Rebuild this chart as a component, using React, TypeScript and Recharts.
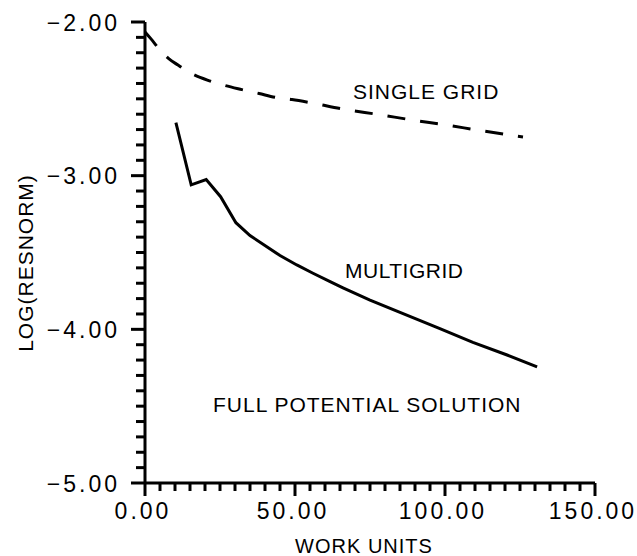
import { Line, LineChart, XAxis, YAxis } from 'recharts'

const singleGridWork = [0, 2, 4.7, 8, 11, 15, 21, 26, 32.3, 38, 43.3, 49, 55, 66.3, 77.8, 89.2, 100.3, 111.7, 126]
const singleGridLog = [-2.065, -2.11, -2.175, -2.24, -2.28, -2.33, -2.38, -2.41, -2.44, -2.465, -2.49, -2.505, -2.525, -2.568, -2.602, -2.638, -2.67, -2.706, -2.748]

const multigridWork = [10.3, 15.4, 20.4, 25.2, 30.3, 35, 40.6, 45, 50.6, 56, 61.7, 66, 75, 85, 98.3, 109.3, 120.7, 130.7]
const multigridLog = [-2.655, -3.06, -3.025, -3.137, -3.306, -3.39, -3.462, -3.52, -3.581, -3.635, -3.69, -3.73, -3.81, -3.89, -3.995, -4.085, -4.167, -4.245]

const xMajorTicks = [0, 50, 100, 150]
const yMajorTicks = [-5, -4, -3, -2]

// minor ticks: every 5 work units, every 0.1 in log
const xTicks = Array.from({ length: 31 }, (_, i) => i * 5)
const yTicks = Array.from({ length: 31 }, (_, i) => Math.round((-5 + i * 0.1) * 10) / 10)

const singleGrid = singleGridWork.map((x, i) => ({ x, y: singleGridLog[i] }))
const multigrid = multigridWork.map((x, i) => ({ x, y: multigridLog[i] }))

const font = '"Liberation Sans", Arial, sans-serif'
const fmt = (v: number) => v.toFixed(2).replace('-', '\u2212')

function YTick({ x, y, payload }: any) {
  const major = yMajorTicks.some((m) => Math.abs(m - payload.value) < 1e-6)
  return (
    <g>
      <line x1={x - (major ? 14 : 9)} x2={x} y1={y} y2={y} stroke="#000" strokeWidth={3} />
      {major ? (
        <text x={x - 25} y={y + 8.5} textAnchor="end" fontSize={23} letterSpacing={3} fontFamily={font} fill="#000">
          {fmt(payload.value)}
        </text>
      ) : null}
    </g>
  )
}

function XTick({ x, y, payload }: any) {
  const major = xMajorTicks.includes(payload.value)
  return (
    <g>
      <line x1={x} x2={x} y1={y} y2={y + (major ? 13 : 8)} stroke="#000" strokeWidth={3} />
      {major ? (
        <text x={x - 2} y={y + 36} textAnchor="middle" fontSize={23} letterSpacing={3} fontFamily={font} fill="#000">
          {fmt(payload.value)}
        </text>
      ) : null}
    </g>
  )
}

export default function App() {
  return (
    <div style={{ position: 'absolute', left: 0, top: 0, background: '#fff' }}>
      <LineChart width={637} height={556} margin={{ top: 22, right: 42, bottom: 72, left: 144 }}>
        <XAxis
          type="number"
          dataKey="x"
          domain={[0, 150]}
          ticks={xTicks}
          interval={0}
          height={1}
          tickSize={0}
          tickMargin={0}
          tickLine={false}
          axisLine={{ stroke: '#000', strokeWidth: 3 }}
          tick={<XTick />}
        />
        <YAxis
          type="number"
          domain={[-5, -2]}
          ticks={yTicks}
          interval={0}
          width={1}
          tickSize={0}
          tickMargin={0}
          tickLine={false}
          axisLine={{ stroke: '#000', strokeWidth: 3 }}
          tick={<YTick />}
        />
        <Line
          data={singleGrid}
          dataKey="y"
          type="monotone"
          stroke="#000"
          strokeWidth={3}
          strokeDasharray="18 15"
          dot={false}
          isAnimationActive={false}
        />
        <Line
          data={multigrid}
          dataKey="y"
          type="linear"
          stroke="#000"
          strokeWidth={3}
          dot={false}
          isAnimationActive={false}
        />
        <text x={353} y={99} fontSize={21} letterSpacing={1} fontFamily={font} fill="#000">SINGLE GRID</text>
        <text x={345} y={278} fontSize={21} letterSpacing={0.5} fontFamily={font} fill="#000">MULTIGRID</text>
        <text x={213} y={412} fontSize={21} letterSpacing={1} fontFamily={font} fill="#000">FULL POTENTIAL SOLUTION</text>
        <text x={364} y={553} textAnchor="middle" fontSize={20} letterSpacing={1} fontFamily={font} fill="#000">WORK UNITS</text>
        <text
          x={0}
          y={0}
          transform="translate(33, 263) rotate(-90)"
          textAnchor="middle"
          fontSize={21}
          letterSpacing={1}
          fontFamily={font}
          fill="#000"
        >
          LOG(RESNORM)
        </text>
      </LineChart>
    </div>
  )
}
